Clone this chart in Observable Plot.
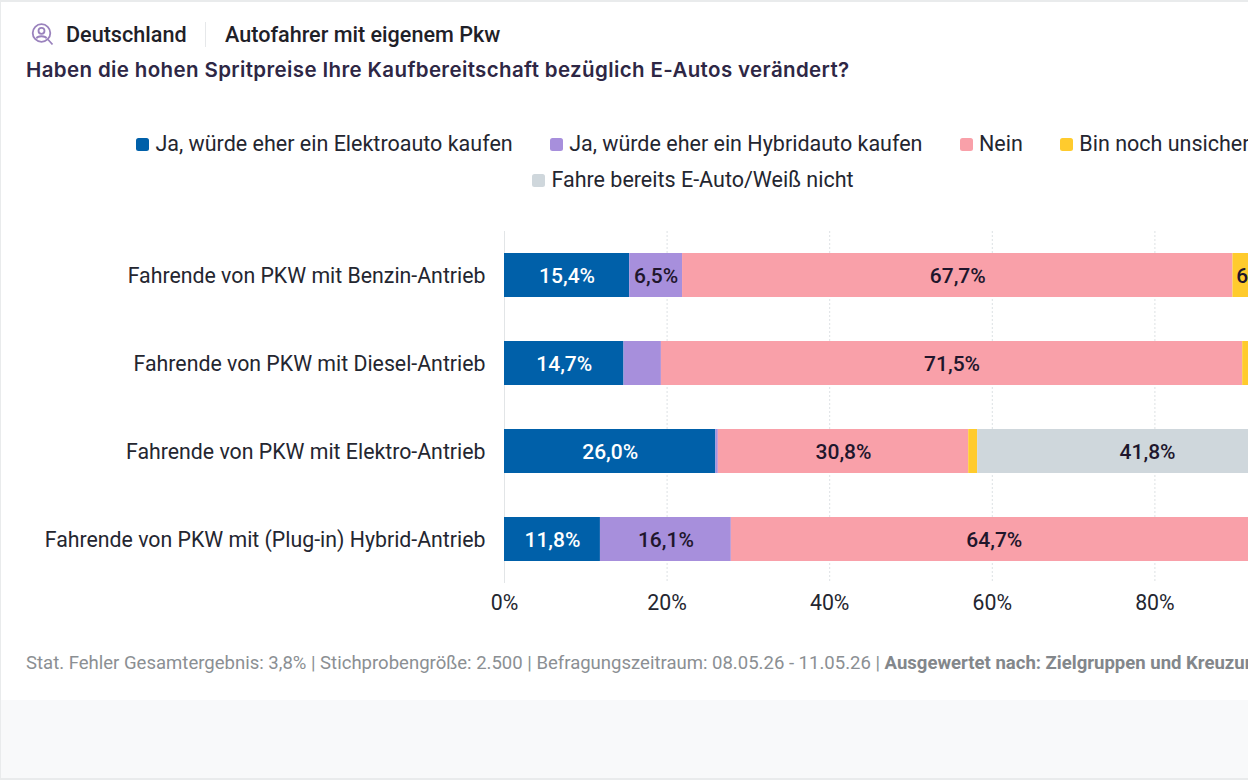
<!DOCTYPE html>
<html lang="de"><head><meta charset="utf-8">
<script src="https://cdn.jsdelivr.net/npm/d3@7"></script>
<script src="https://cdn.jsdelivr.net/npm/@observablehq/plot@0.6"></script>
<style>
html,body{margin:0;padding:0;width:1248px;height:780px;overflow:hidden;background:#e9ebec;font-family:Roboto,sans-serif}
#card{position:absolute;left:1px;top:2px;width:1247px;height:776px;background:#fff;overflow:hidden}
#strip{position:absolute;left:0;top:698px;width:100%;height:78px;background:#f8f9fa}
.abs{position:absolute;white-space:nowrap}
#chart{position:absolute;left:-1px;top:-2px;width:1350px}
#legend{position:absolute;left:99px;top:124px;width:1186px;display:flex;flex-wrap:wrap;justify-content:center;column-gap:37.5px;font-size:21.5px;color:#242630;line-height:36px}
#legend .it{display:flex;align-items:center;white-space:nowrap}
#legend i{display:block;width:13px;height:13px;border-radius:2.5px;margin-right:6px}
</style></head><body>
<div id="card">
<svg class="abs" style="left:30px;top:21px" width="24" height="24" viewBox="0 0 24 24" fill="none" stroke="#9a82bd" stroke-width="1.8"><circle cx="10.5" cy="10" r="8.8"/><circle cx="10.5" cy="7.8" r="3"/><path d="M5.5 15.5c1-3 9-3 10 0M17 16.5l4.5 5"/></svg>
<div class="abs" style="left:65px;top:21px;font-size:21.6px;font-weight:500;color:#1f2128;line-height:24px">Deutschland</div>
<div class="abs" style="left:204px;top:20px;width:1px;height:25px;background:#e6e8ea"></div>
<div class="abs" style="left:224px;top:21px;font-size:21.6px;font-weight:500;color:#1f2128;line-height:24px">Autofahrer mit eigenem Pkw</div>
<div class="abs" style="left:25px;top:56px;font-family:Inter,sans-serif;font-size:20.5px;letter-spacing:.37px;font-weight:600;color:#2e2745;line-height:24px">Haben die hohen Spritpreise Ihre Kaufbereitschaft bezüglich E-Autos verändert?</div>
<div id="legend"></div>
<div class="abs" style="left:25px;top:650px;font-size:18.55px;color:#8b8f93;line-height:22px">Stat. Fehler Gesamtergebnis: 3,8% | Stichprobengröße: 2.500 | Befragungszeitraum: 08.05.26 - 11.05.26 | <b style="font-weight:700;color:#83878b">Ausgewertet nach: Zielgruppen und Kreuzungen</b></div>
<div id="strip"></div>
<div id="chart"></div>
</div>
<script>
const categories = [
  "Fahrende von PKW mit Benzin-Antrieb",
  "Fahrende von PKW mit Diesel-Antrieb",
  "Fahrende von PKW mit Elektro-Antrieb",
  "Fahrende von PKW mit (Plug-in) Hybrid-Antrieb"
];
const seriesNames = [
  "Ja, würde eher ein Elektroauto kaufen",
  "Ja, würde eher ein Hybridauto kaufen",
  "Nein",
  "Bin noch unsicher",
  "Fahre bereits E-Auto/Weiß nicht"
];
const seriesColors = ["#0060a9", "#a78fdc", "#f9a0a9", "#ffcb2d", "#cfd7dc"];
const elektroauto = [15.4, 14.7, 26.0, 11.8];
const hybridauto = [6.5, 4.6, 0.3, 16.1];
const nein = [67.7, 71.5, 30.8, 64.7];
const unsicher = [6.2, 5.0, 1.1, 4.4];
const weissNicht = [4.2, 4.2, 41.8, 3.0];
const xTicks = [0, 20, 40, 60, 80, 100];
const labelMinimum = 6;

const seriesValues = [elektroauto, hybridauto, nein, unsicher, weissNicht];
const rows = seriesNames.flatMap((s, i) =>
  categories.map((c, j) => ({category: c, series: s, seriesIndex: i, value: seriesValues[i][j]})));

const pct = v => v.toFixed(1).replace(".", ",") + "%";
const labelFor = test => d => test(d) && d.value >= labelMinimum ? pct(d.value) : null;
const stacked = extra => Plot.stackX({x: "value", y: "category", z: "series", order: null, ...extra});

const legend = document.getElementById("legend");
seriesNames.forEach((s, i) => {
  const it = document.createElement("div"); it.className = "it";
  const sw = document.createElement("i"); sw.style.background = seriesColors[i];
  it.append(sw, s); legend.append(it);
  if (i === 3) { const br = document.createElement("div"); br.style.cssText = "flex-basis:100%;height:0"; legend.append(br); }
});

const plot = Plot.plot({
  width: 1350, height: 640,
  marginLeft: 504, marginRight: 33, marginTop: 231, marginBottom: 57,
  style: {fontFamily: "Roboto, sans-serif", fontSize: "20px", background: "transparent", overflow: "visible", maxWidth: "none"},
  x: {domain: [0, 100], label: null},
  y: {domain: categories, paddingInner: 0.5, paddingOuter: 0.25, label: null},
  color: {domain: seriesNames, range: seriesColors},
  marks: [
    Plot.ruleX(xTicks.slice(1), {stroke: "#dde1e4", strokeDasharray: "2 2", strokeWidth: 1}),
    Plot.ruleX([0], {stroke: "#e2e5e7", strokeWidth: 1}),
    Plot.axisX({ticks: xTicks, tickFormat: d => d + "%", tickSize: 0, tickPadding: 11, fontSize: 21.3, fill: "#242630", label: null, lineAnchor: "top"}),
    Plot.axisY({tickSize: 0, tickPadding: 19, fontSize: 21.3, fill: "#242630", label: null, tickFormat: d => d, dy: 1}),
    Plot.barX(rows, stacked({fill: "series"})),
    Plot.text(rows, stacked({text: labelFor(d => d.seriesIndex === 0), fill: "#ffffff", fontSize: 21, fontWeight: 500, dy: 1})),
    Plot.text(rows, stacked({text: labelFor(d => d.seriesIndex !== 0), fill: "#20162c", fontSize: 21, fontWeight: 500, dy: 1}))
  ]
});
document.getElementById("chart").append(plot);
</script>
</body></html>
